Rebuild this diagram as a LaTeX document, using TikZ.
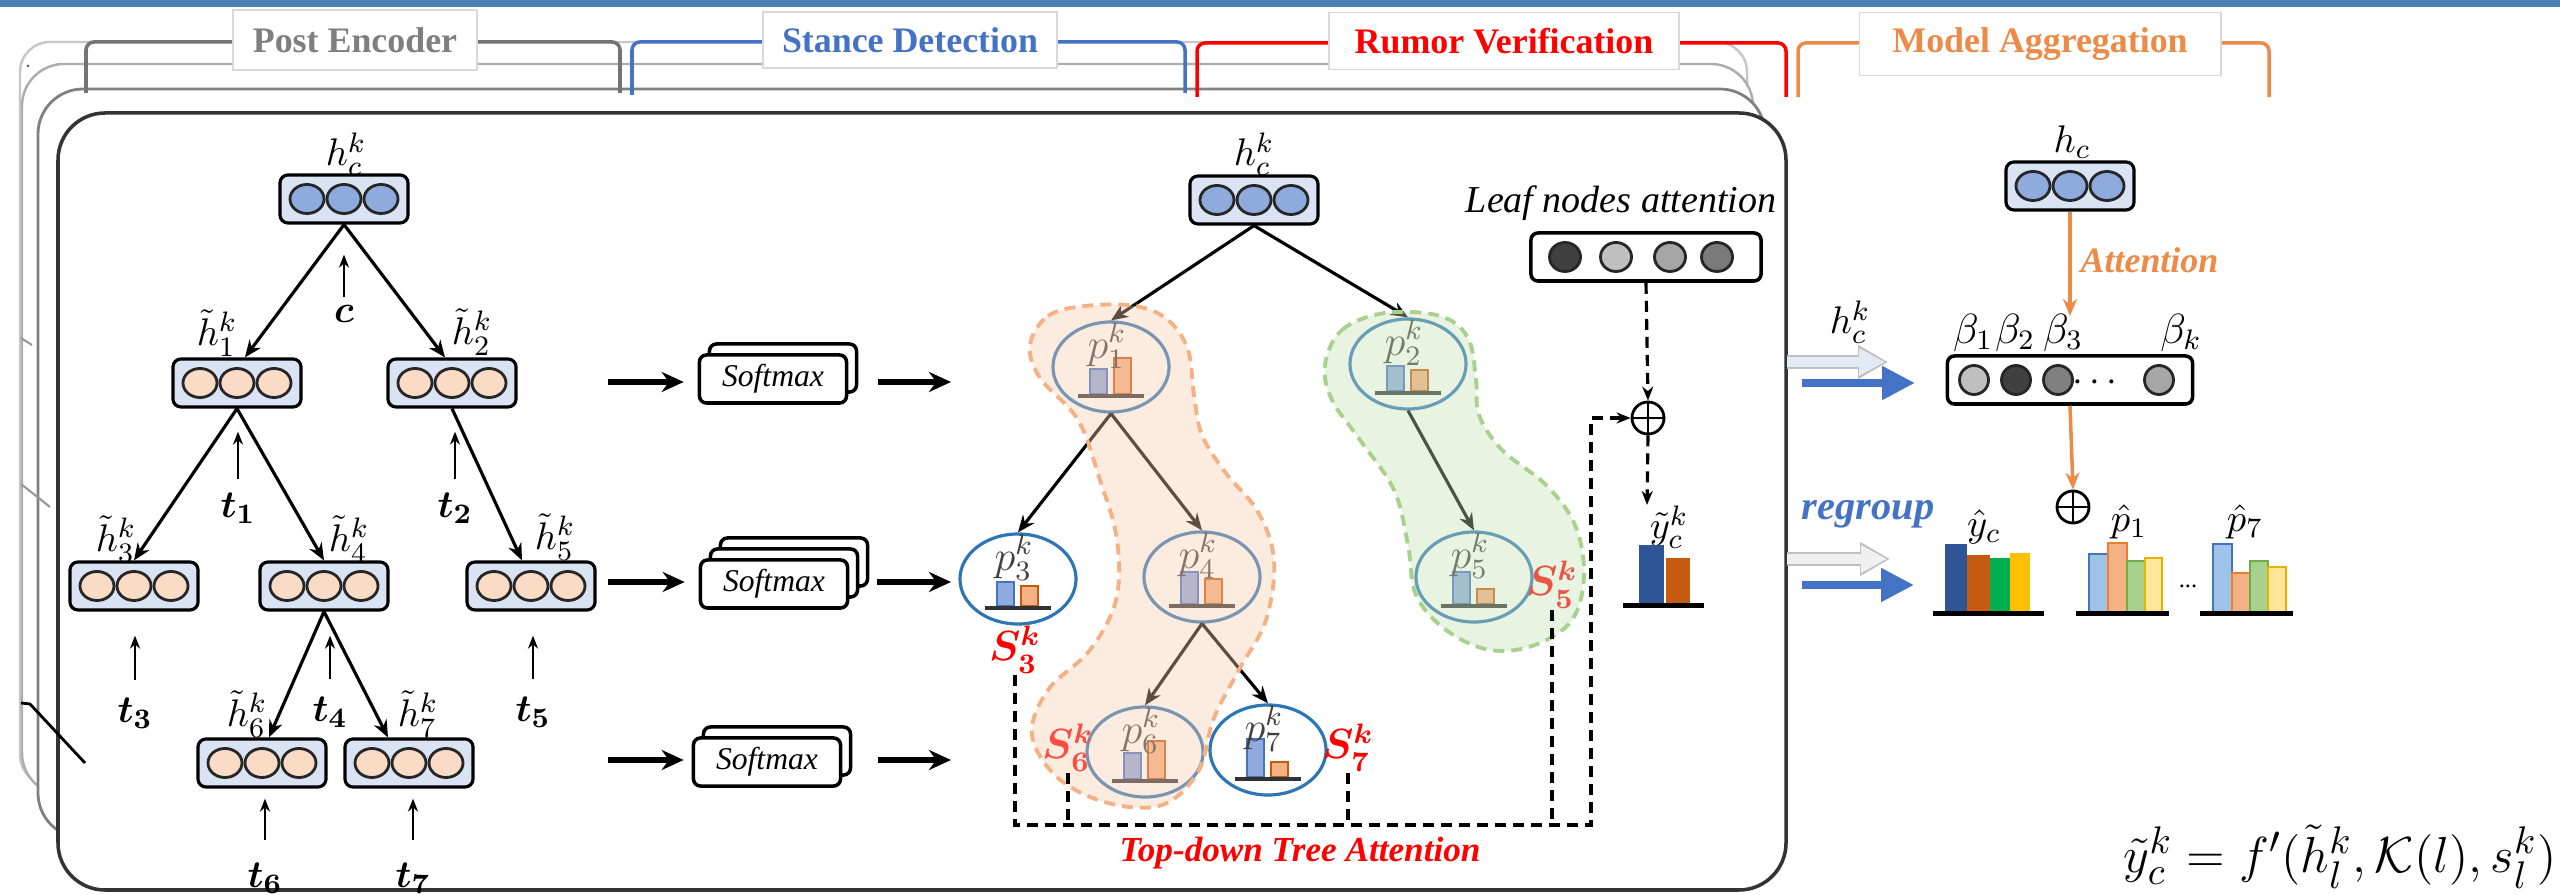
\documentclass[tikz,border=0pt]{standalone}
\usepackage{amsmath}
\usepackage[no-math]{fontspec}
\setmainfont{Liberation Serif}
\usetikzlibrary{arrows.meta,shapes.geometric}

\definecolor{stripblue}{HTML}{4A7EB5}
\definecolor{boxblue}{HTML}{DAE3F3}
\definecolor{cellblue}{HTML}{8FAADC}
\definecolor{cellpeach}{HTML}{FADCC6}
\definecolor{penc}{HTML}{7F7F7F}
\definecolor{sdblue}{HTML}{4472C4}
\definecolor{rvred}{HTML}{FF0000}
\definecolor{maorange}{HTML}{EB8B47}
\definecolor{ringblue}{HTML}{2E75B6}
\definecolor{barblue}{HTML}{8FAADC}
\definecolor{barblueline}{HTML}{4472C4}
\definecolor{barorange}{HTML}{F4B183}
\definecolor{barorangeline}{HTML}{C55A11}
\definecolor{hullorange}{HTML}{F8CBAD}
\definecolor{hullorangeline}{HTML}{F4B183}
\definecolor{hullgreen}{HTML}{C5E0B4}
\definecolor{hullgreenline}{HTML}{A9D18E}
\definecolor{ydark}{HTML}{2F5597}
\definecolor{ybrown}{HTML}{C55A11}
\definecolor{ygreen}{HTML}{00B050}
\definecolor{yyellow}{HTML}{FFC000}
\definecolor{lblue}{HTML}{9DC3E6}
\definecolor{lorange}{HTML}{F4B183}
\definecolor{lgreen}{HTML}{A9D18E}
\definecolor{lyellow}{HTML}{FFE699}
\definecolor{lbluel}{HTML}{4472C4}
\definecolor{lorangel}{HTML}{ED7D31}
\definecolor{lgreenl}{HTML}{70AD47}
\definecolor{lyellowl}{HTML}{E8B000}
\definecolor{ghost}{HTML}{E2EAF5}

\tikzset{
  vecbox/.style={draw=black, line width=0.9pt, rounded corners=0.08cm, fill=boxblue,
    minimum width=1.28cm, minimum height=0.48cm, inner sep=0pt},
  cellcirc/.style={draw=black!85, line width=0.8pt},
  tarr/.style={line width=0.9pt, -{Stealth[length=0.17cm,width=0.14cm]}},
  inarr/.style={line width=0.6pt, -{Stealth[length=0.13cm,width=0.1cm]}},
  bigarr/.style={line width=1.6pt, -{Stealth[length=0.22cm,width=0.2cm]}},
  smbox/.style={draw=black, line width=1pt, fill=white, rounded corners=0.07cm,
    minimum width=1.47cm, minimum height=0.48cm, inner sep=0pt,
    font=\fontsize{9}{9}\selectfont\itshape},
  probcirc/.style={ellipse, draw=ringblue, line width=0.9pt, minimum width=1.16cm,
    minimum height=0.9cm, inner sep=0pt},
  hdrbox/.style={draw=black!15, fill=white, line width=0.5pt, inner sep=0pt,
    font=\fontsize{10.2}{12}\selectfont\bfseries},
  brk/.style={line width=1pt, rounded corners=0.08cm},
  lbl/.style={inner sep=0pt, font=\fontsize{11}{11}\selectfont},
  slbl/.style={inner sep=0pt, text=rvred, font=\fontsize{12}{12}\selectfont},
  dsh/.style={line width=0.9pt, dash pattern=on 0.11cm off 0.07cm},
  plusnode/.style={circle, draw, line width=0.8pt, minimum size=0.32cm, inner sep=0pt,
    path picture={\draw[line width=0.8pt]
      (path picture bounding box.north) -- (path picture bounding box.south)
      (path picture bounding box.west) -- (path picture bounding box.east);}},
  grayrow/.style={draw=black, line width=1pt, rounded corners=0.07cm, fill=white,
    minimum height=0.48cm, inner sep=0pt},
  ghostarr/.style={line width=0.1cm, -{Triangle[length=0.3cm,width=0.32cm]}},
  bluearr/.style={line width=0.08cm, sdblue, -{Triangle[length=0.33cm,width=0.32cm]}},
  orarr/.style={line width=1pt, maorange, -{Stealth[length=0.17cm,width=0.14cm]}},
}

% vector of three cells: name, x, y, cell colour
\newcommand{\vecrow}[4]{%
  \node[vecbox] (#1) at (#2,#3) {};
  \foreach \i in {-1,0,1}
    \draw[cellcirc, fill=#4] ({#2+37*\i},#3) ellipse [x radius=0.17cm, y radius=0.145cm];
}
% stacked softmax boxes: name, x, y, number of layers
\newcommand{\smstack}[4]{%
  \foreach \j in {#4,...,2}
    \node[smbox] (#1-\j) at ({#2+10*(\j-1)},{#3-11*(\j-1)}) {};
  \node[smbox] (#1) at (#2,#3) {Softmax};
}
% stance distribution node: name, x, y, index, blue bar, orange bar
\newcommand{\probnode}[6]{%
  \node[probcirc] (#1) at (#2,#3) {};
  \draw[barblueline, fill=barblue, line width=0.5pt] ({#2-21},{#3+27}) rectangle ({#2-4},{#3+27-#5});
  \draw[barorangeline, fill=barorange, line width=0.5pt] ({#2+3},{#3+27}) rectangle ({#2+20},{#3+27-#6});
  \fill[black!80] ({#2-33},{#3+27}) rectangle ({#2+33},{#3+31});
  \node[lbl, text=black!75, font=\fontsize{11.5}{11.5}\selectfont] (#1-lab) at ({#2-4},{#3-21}) {$p^k_{#4}$};
}
% outlined bar: x1, x2, top, colour, outline
\newcommand{\obar}[5]{%
  \draw[#5, fill=#4, line width=0.7pt] (#1,612) rectangle (#2,#3);
}

\begin{document}
\begin{tikzpicture}[x=0.01cm, y=-0.01cm]
\useasboundingbox (0,0) rectangle (2560,895);
\fill[white] (0,0) rectangle (2560,895);
\fill[stripblue] (0,0) rectangle (2560,7);

% ---------- stacked pages ----------
\draw[black!22, line width=0.7pt, fill=white, rounded corners=0.3cm] (20,42) rectangle (1747,785);
\draw[black!32, line width=0.7pt, fill=white, rounded corners=0.42cm] (22,64) rectangle (1753,795);
\draw[black!50, line width=0.8pt, fill=white, rounded corners=0.45cm] (38,89) rectangle (1765,838);
\draw[black!40, line width=0.6pt] (21,338) -- (32,345);
\draw[black!40, line width=0.6pt] (21,484) -- (50,507);
\fill[black!60] (28,66) circle [radius=0.015cm];
\draw[black!80, line width=1pt, fill=white, rounded corners=0.47cm] (58,113) rectangle (1786,890);
\draw[black, line width=0.8pt] (21,703) -- (30,704) -- (85,763);

% ---------- section brackets ----------
\draw[brk, black!55] (86,93) -- (86,42) -- (620,42) -- (620,93);
\draw[brk, sdblue] (632,95) -- (632,42) -- (1185,42) -- (1185,93);
\draw[brk, rvred] (1197,97) -- (1197,43) -- (1786,43) -- (1786,97);
\draw[brk, maorange] (1798,97) -- (1798,43) -- (2269,43) -- (2269,97);
\node[hdrbox, text=penc, minimum width=2.44cm, minimum height=0.6cm] (hPE) at (355,40) {Post Encoder};
\node[hdrbox, text=sdblue, minimum width=2.94cm, minimum height=0.56cm] (hSD) at (910,40) {Stance Detection};
\node[hdrbox, text=rvred, minimum width=3.5cm, minimum height=0.57cm] (hRV) at (1504,41) {Rumor Verification};
\node[hdrbox, text=maorange, minimum width=3.61cm, minimum height=0.63cm] (hMA) at (2040,44) {Model Aggregation};

% ---------- post encoder tree ----------
\vecrow{hcL}{344}{199}{cellblue}
\vecrow{h1}{237}{383}{cellpeach}
\vecrow{h2}{452}{383}{cellpeach}
\vecrow{h3}{134}{586}{cellpeach}
\vecrow{h4}{324}{586}{cellpeach}
\vecrow{h5}{531}{586}{cellpeach}
\vecrow{h6}{262}{763}{cellpeach}
\vecrow{h7}{409}{763}{cellpeach}

\node[lbl] (lhcL) at (346,154) {$h^k_c$};
\node[lbl] (lh1) at (217,333) {$\tilde h^k_1$};
\node[lbl] (lh2) at (472,332) {$\tilde h^k_2$};
\node[lbl] (lh3) at (116,539) {$\tilde h^k_3$};
\node[lbl] (lh4) at (349,539) {$\tilde h^k_4$};
\node[lbl] (lh5) at (555,537) {$\tilde h^k_5$};
\node[lbl] (lh6) at (247,714) {$\tilde h^k_6$};
\node[lbl] (lh7) at (418,714) {$\tilde h^k_7$};

\draw[tarr] (hcL.south) -- ([xshift=0.08cm]h1.north);
\draw[tarr] (hcL.south) -- ([xshift=-0.07cm]h2.north);
\draw[tarr] (h1.south) -- (h3.north);
\draw[tarr] (h1.south) -- (h4.north);
\draw[tarr] (h2.south) -- ([xshift=-0.09cm]h5.north);
\draw[tarr] (h4.south) -- ([xshift=0.07cm]h6.north);
\draw[tarr] (h4.south) -- ([xshift=-0.21cm]h7.north);

% inputs
\node[lbl] (c) at (344,314) {$\boldsymbol{c}$};
\node[lbl] (t1) at (238,508) {$\boldsymbol{t_1}$};
\node[lbl] (t2) at (455,508) {$\boldsymbol{t_2}$};
\node[lbl] (t3) at (135,713) {$\boldsymbol{t_3}$};
\node[lbl] (t4) at (330,712) {$\boldsymbol{t_4}$};
\node[lbl] (t5) at (533,712) {$\boldsymbol{t_5}$};
\node[lbl] (t6) at (265,878) {$\boldsymbol{t_6}$};
\node[lbl] (t7) at (413,878) {$\boldsymbol{t_7}$};
\draw[inarr, shorten <=0.08cm, shorten >=0.3cm] (c) -- (c |- hcL.south);
\draw[inarr, shorten <=0.13cm, shorten >=0.23cm] (t1) -- (t1 |- h1.south);
\draw[inarr, shorten <=0.13cm, shorten >=0.23cm] (t2) -- (t2 |- h2.south);
\draw[inarr, shorten <=0.17cm, shorten >=0.24cm] (t3) -- (t3 |- h3.south);
\draw[inarr, shorten <=0.17cm, shorten >=0.24cm] (t4) -- (t4 |- h4.south);
\draw[inarr, shorten <=0.17cm, shorten >=0.24cm] (t5) -- (t5 |- h5.south);
\draw[inarr, shorten <=0.22cm, shorten >=0.1cm] (t6) -- (t6 |- h6.south);
\draw[inarr, shorten <=0.22cm, shorten >=0.1cm] (t7) -- (t7 |- h7.south);

% ---------- stance detection ----------
\smstack{sm1}{773}{379}{2}
\smstack{sm2}{774}{584}{3}
\smstack{sm3}{767}{762}{2}
\coordinate (sa1) at (608,382);
\coordinate (sa2) at (608,582);
\coordinate (sa3) at (608,760);
\coordinate (sb1) at (951,382);
\coordinate (sb2) at (951,582);
\coordinate (sb3) at (951,760);
\draw[bigarr, shorten >=0.14cm] (sa1) -- (sa1 -| sm1.west);
\draw[bigarr, shorten >=0.14cm] (sa2) -- (sa2 -| sm2.west);
\draw[bigarr, shorten >=0.08cm] (sa3) -- (sa3 -| sm3.west);
\draw[bigarr, shorten <=0.3cm] (sb1 -| sm1.east) -- (sb1);
\draw[bigarr, shorten <=0.28cm] (sb2 -| sm2.east) -- (sb2);
\draw[bigarr, shorten <=0.36cm] (sb3 -| sm3.east) -- (sb3);

% ---------- rumor verification tree ----------
\vecrow{hcM}{1254}{200}{cellblue}
\node[lbl] (lhcM) at (1254,154) {$h^k_c$};
\probnode{p1}{1111}{367}{1}{25}{36}
\probnode{p2}{1408}{364}{2}{25}{21}
\probnode{p3}{1018}{579}{3}{24}{20}
\probnode{p4}{1202}{577}{4}{32}{25}
\probnode{p5}{1474}{577}{5}{32}{15}
\probnode{p6}{1145}{752}{6}{26}{38}
\probnode{p7}{1268}{750}{7}{38}{15}
\draw[tarr] (hcM.south) -- (p1.north);
\draw[tarr] (hcM.south) -- (p2.north);
\draw[tarr] (p1.south) -- (p3.north);
\draw[tarr] (p1.south) -- (p4.north);
\draw[tarr] (p2.south) -- (p5.north);
\draw[tarr] (p4.south) -- (p6.north);
\draw[tarr] (p4.south) -- (p7.north);

\node[slbl] (S3) at (1015,650) {$\boldsymbol{S^k_3}$};
\node[slbl] (S6) at (1068,748) {$\boldsymbol{S^k_6}$};
\node[slbl] (S7) at (1348,748) {$\boldsymbol{S^k_7}$};
\node[slbl] (S5) at (1552,585) {$\boldsymbol{S^k_5}$};

% highlighted paths
\draw[hullorangeline, line width=1.1pt, dash pattern=on 0.11cm off 0.07cm,
      fill=hullorange, fill opacity=0.38]
  plot[smooth cycle, tension=0.6] coordinates {(1030,345) (1048,316) (1085,306) (1135,306)
    (1168,320) (1188,350) (1194,395) (1202,435) (1225,472) (1258,512) (1274,560) (1266,620)
    (1240,668) (1214,718) (1198,772) (1162,805) (1108,803) (1058,778) (1032,735) (1048,690)
    (1090,650) (1116,600) (1117,540) (1100,480) (1078,420) (1040,378)};
\draw[hullgreenline, line width=1.1pt, dash pattern=on 0.11cm off 0.07cm,
      fill=hullgreen, fill opacity=0.38]
  plot[smooth cycle, tension=0.6] coordinates {(1325,365) (1342,330) (1385,313) (1440,316)
    (1468,338) (1476,380) (1479,415) (1502,450) (1546,485) (1575,525) (1584,575) (1572,620)
    (1535,645) (1490,650) (1446,630) (1416,595) (1408,545) (1394,490) (1360,440) (1332,400)};

% leaf attention
\node[font=\fontsize{10.8}{11}\selectfont\itshape, inner sep=0pt] (leaftxt) at (1621,203) {Leaf nodes attention};
\node[grayrow, minimum width=2.3cm] (leaf) at (1646,257) {};
\foreach \xx/\cc in {1565/black!75, 1616/black!25, 1670/black!35, 1717/black!52}
  \draw[cellcirc, fill=\cc] (\xx,257) ellipse [x radius=0.155cm, y radius=0.145cm];
\node[plusnode] (plus1) at (1648,418) {};
\coordinate (yt) at (1647,505);
\draw[dsh, -{Stealth[length=0.14cm,width=0.11cm]}] (leaf.south) -- (plus1.north);
\draw[dsh, -{Stealth[length=0.14cm,width=0.11cm]}] (plus1.south) -- (yt);

% top-down tree attention links
\coordinate (dR) at (1591,825);
\draw[dsh, -{Stealth[length=0.14cm,width=0.11cm]}] (S3.south) |- (dR) |- (plus1.west);
\draw[dsh] (S6.south) -- (S6.south |- dR);
\draw[dsh] (S7.south) -- (S7.south |- dR);
\draw[dsh] (S5.south) -- (S5.south |- dR);
\node[text=rvred, inner sep=0pt, font=\fontsize{10}{10}\selectfont\bfseries\itshape] (tdta) at (1300,853) {Top-down Tree Attention};

% claim-level prediction of this model
\node[lbl] (lyt) at (1669,527) {$\tilde y^k_c$};
\fill[ydark] (1639,545) rectangle (1664,604);
\fill[ybrown] (1666,558) rectangle (1690,604);
\fill[black] (1623,603) rectangle (1704,608);

% ---------- model aggregation ----------
\node[lbl] (lhc) at (2072,142) {$h_c$};
\vecrow{hcR}{2070}{186}{cellblue}
\coordinate (attTip) at (2070,316);
\draw[orarr] (hcR.south) -- (attTip);
\node[text=maorange, anchor=west, inner sep=0pt, font=\fontsize{10.2}{11}\selectfont\bfseries\itshape] (att) at (2080,260) {Attention};
\node[lbl, font=\fontsize{12}{12}\selectfont] (bt1) at (1973,333) {$\beta_1$};
\node[lbl, font=\fontsize{12}{12}\selectfont] (bt2) at (2015,333) {$\beta_2$};
\node[lbl, font=\fontsize{12}{12}\selectfont] (bt3) at (2063,333) {$\beta_3$};
\node[lbl, font=\fontsize{12}{12}\selectfont] (btk) at (2181,333) {$\beta_k$};
\node[grayrow, minimum width=2.45cm] (beta) at (2070,380) {};
\foreach \xx/\cc in {1974/black!25, 2016/black!75, 2058/black!50, 2159/black!35}
  \draw[cellcirc, fill=\cc] (\xx,380) ellipse [x radius=0.145cm, y radius=0.145cm];
\node[lbl] (bdots) at (2098,383) {$\cdots$};
\node[plusnode] (plus2) at (2073,507) {};
\draw[orarr] (beta.south) -- (plus2.north);

% transfer arrows
\node[lbl] (lhck) at (1850,322) {$h^k_c$};
\coordinate (g1a) at (1787,362); \coordinate (g1b) at (1888,362);
\coordinate (g2a) at (1787,559); \coordinate (g2b) at (1890,559);
\coordinate (b1a) at (1802,383); \coordinate (b1b) at (1915,383);
\coordinate (b2a) at (1802,585); \coordinate (b2b) at (1914,585);
\draw[ghostarr, black!25, line width=0.14cm] (g1a) -- (g1b);
\draw[ghostarr, ghost, -{Triangle[length=0.26cm,width=0.26cm]}] (g1a) -- ([xshift=-0.03cm]g1b);
\draw[ghostarr, black!25, line width=0.14cm] (g2a) -- (g2b);
\draw[ghostarr, black!6, -{Triangle[length=0.26cm,width=0.26cm]}] (g2a) -- ([xshift=-0.03cm]g2b);
\draw[bluearr] (b1a) -- (b1b);
\draw[bluearr] (b2a) -- (b2b);
\node[text=sdblue, inner sep=0pt, font=\fontsize{11.5}{11.5}\selectfont\bfseries\itshape] (regroup) at (1868,514) {regroup};

% aggregated distributions
\node[lbl] (lyc) at (1984,527) {$\hat y_c$};
\fill[ydark] (1945,544) rectangle (1967,612);
\fill[ybrown] (1967,555) rectangle (1990,612);
\fill[ygreen] (1990,558) rectangle (2010,612);
\fill[yyellow] (2010,553) rectangle (2030,612);
\fill[black] (1933,611) rectangle (2044,616);

\node[lbl] (lp1) at (2129,522) {$\hat p_1$};
\obar{2089}{2108}{554}{lblue}{lbluel}
\obar{2108}{2127}{543}{lorange}{lorangel}
\obar{2127}{2145}{561}{lgreen}{lgreenl}
\obar{2145}{2162}{558}{lyellow}{lyellowl}
\fill[black] (2076,611) rectangle (2169,616);

\node[lbl] (pdots) at (2188,586) {\fontsize{7}{7}\selectfont ...};

\node[lbl] (lp7) at (2245,522) {$\hat p_7$};
\obar{2213}{2232}{544}{lblue}{lbluel}
\obar{2232}{2250}{573}{lorange}{lorangel}
\obar{2250}{2268}{561}{lgreen}{lgreenl}
\obar{2268}{2286}{567}{lyellow}{lyellowl}
\fill[black] (2200,611) rectangle (2293,616);

% aggregation formula
\node[anchor=east, inner sep=0pt, font=\fontsize{15.5}{15.5}\selectfont] (formula) at (2557,857)
  {$\tilde y^k_c = f'(\tilde h^k_l, \mathcal{K}(l), s^k_l)$};
\end{tikzpicture}
\end{document}
